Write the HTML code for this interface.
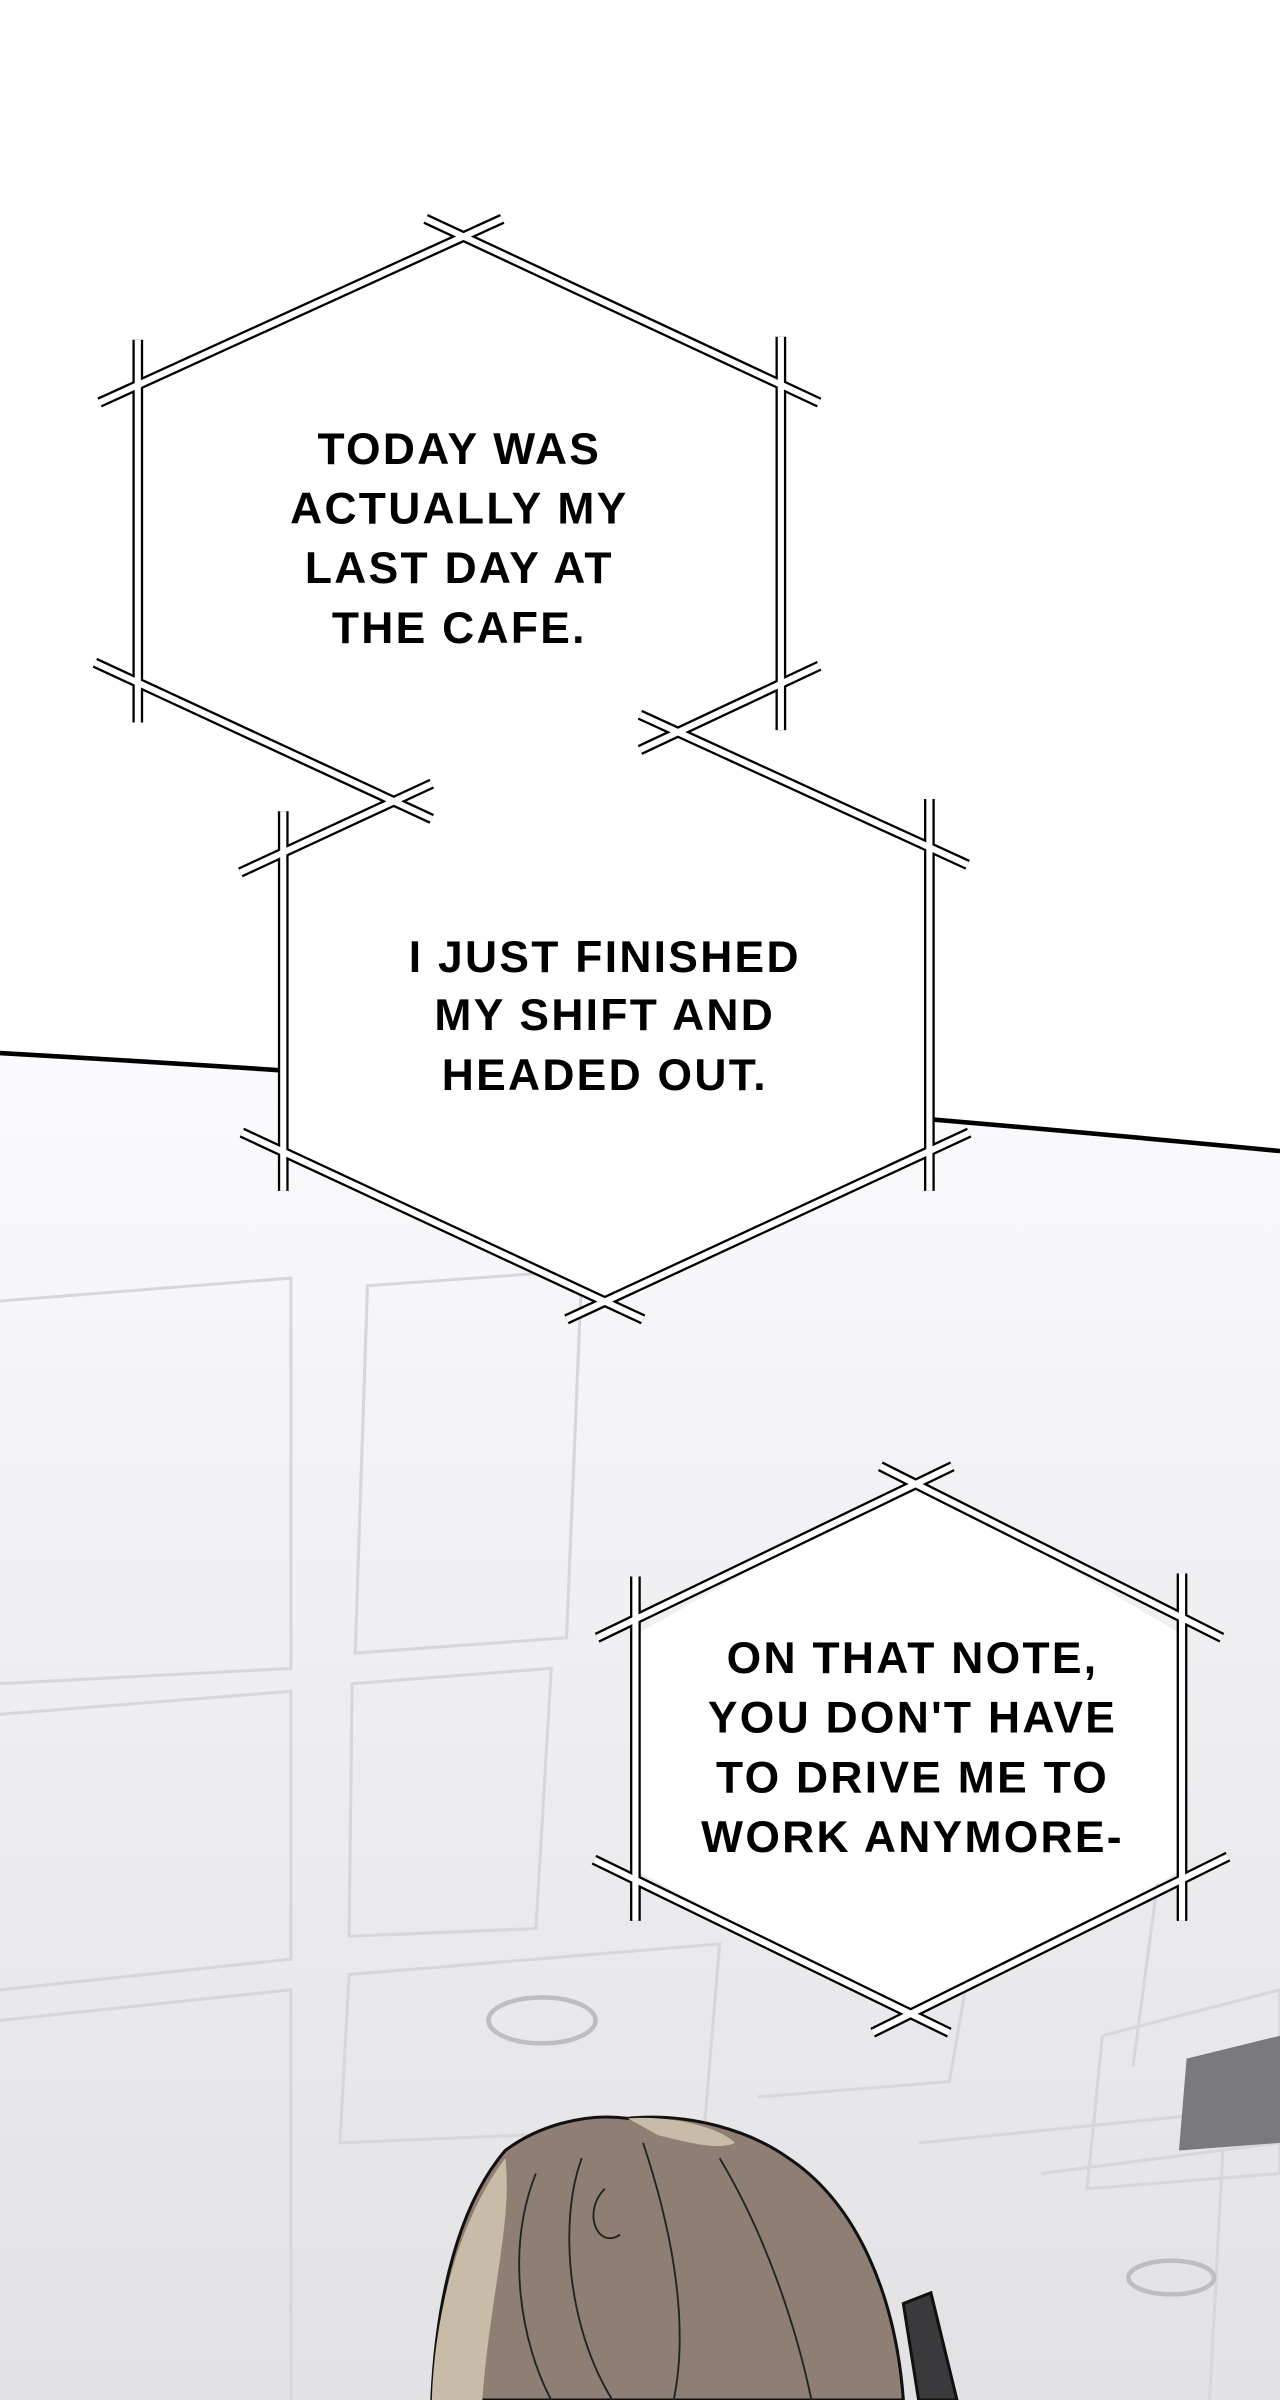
<!DOCTYPE html>
<html><head><meta charset="utf-8"><style>
html,body{margin:0;padding:0;background:#fff;}
svg{display:block;}
</style></head><body>
<svg width="1280" height="2400" viewBox="0 0 836 1568" preserveAspectRatio="none" xmlns="http://www.w3.org/2000/svg">
<defs>
<linearGradient id="bg" x1="0" y1="0" x2="0" y2="1">
<stop offset="0" stop-color="#fbfbfd"/><stop offset="0.4" stop-color="#f0f0f3"/><stop offset="1" stop-color="#e2e2e5"/>
</linearGradient>
</defs>
<rect width="836" height="1568" fill="#fff"/>
<path d="M0,688 Q420,712 836,752 L836,1568 L0,1568 Z" fill="url(#bg)"/>
<path d="M0,688 Q420,712 836,752" fill="none" stroke="#000" stroke-width="3"/>
<g fill="none" stroke="#d6d6db" stroke-width="2">
<path d="M0,850 L190,835 L190,1090 L0,1100"/>
<path d="M0,1120 L190,1105 L190,1280 L0,1300"/>
<path d="M0,1320 L190,1300 L190,1568"/>
<path d="M240,840 L380,830 L370,1070 L232,1080 Z"/>
<path d="M230,1100 L360,1090 L350,1260 L228,1265 Z"/>
<path d="M228,1290 L470,1270 L460,1390 L222,1400 Z"/>
<path d="M500,1260 L640,1245 L620,1360 L495,1370"/>
<path d="M650,1235 L760,1200 L740,1350"/>
<path d="M600,1400 L800,1380 L790,1568"/>
<path d="M680,1420 L836,1400"/>
<path d="M720,1330 L836,1300 L836,1420 L710,1430 Z"/>
<ellipse cx="354" cy="1320" rx="35" ry="15" stroke="#bdbdc2" stroke-width="3"/>
<ellipse cx="765" cy="1488" rx="28" ry="11" stroke="#bdbdc2" stroke-width="3"/>
</g>
<path d="M775,1345 L836,1330 L836,1400 L770,1405 Z" fill="#7a7a7e"/>
<path d="M282,1568 C285,1500 300,1440 330,1405 C350,1390 380,1380 410,1384 C450,1380 490,1392 515,1410 C560,1440 585,1500 590,1568 Z" fill="#8e7e74" stroke="#111" stroke-width="2"/>
<path d="M282,1568 C284,1510 300,1450 330,1410 C335,1450 320,1500 315,1568 Z" fill="#c8bba8"/>
<path d="M410,1384 C440,1382 470,1390 480,1400 C470,1405 450,1400 430,1395 Z" fill="#c8bba8"/>
<path d="M590,1505 L608,1498 L625,1568 L600,1568 Z" fill="#3a3a3c" stroke="#111" stroke-width="2"/>
<g fill="none" stroke="#222" stroke-width="1.2">
<path d="M350,1420 C330,1470 340,1530 360,1568"/><path d="M380,1410 C365,1450 370,1520 400,1568"/>
<path d="M420,1400 C440,1460 450,1520 440,1568"/><path d="M470,1410 C500,1460 520,1520 530,1568"/>
<path d="M395,1430 C380,1445 390,1470 405,1460"/>
</g>

<g fill="#fff">
<polygon points="302,153 510,258 510,452 282,530 90,452 90,253"/>
<polygon points="185,558 300,505 420,475 607,552 607,752 395,852 185,752"/>
<polygon points="598,965 772,1068 772,1222 595,1318 415,1222 415,1068"/>
</g>
<g stroke-linecap="butt">
<g stroke="#000" stroke-width="7">
<path d="M65,263 L328,143 M278,143 L535,263 M90,222 L90,472 M510,220 L510,477 M62,433 L282,535 M535,435 L418,490"/>
<path d="M157,570 L282,512 M418,467 L632,565 M185,530 L185,778 M607,522 L607,778 M158,740 L420,862 M370,862 L633,740"/>
<path d="M390,1070 L622,958 M575,958 L798,1070 M415,1030 L415,1255 M772,1028 L772,1255 M388,1215 L620,1328 M570,1328 L802,1213"/>
</g>
<g stroke="#fff" stroke-width="4">
<path d="M65,263 L328,143 M278,143 L535,263 M90,222 L90,472 M510,220 L510,477 M62,433 L282,535 M535,435 L418,490"/>
<path d="M157,570 L282,512 M418,467 L632,565 M185,530 L185,778 M607,522 L607,778 M158,740 L420,862 M370,862 L633,740"/>
<path d="M390,1070 L622,958 M575,958 L798,1070 M415,1030 L415,1255 M772,1028 L772,1255 M388,1215 L620,1328 M570,1328 L802,1213"/>
</g>
</g>
<g font-family="'Liberation Sans', sans-serif" font-weight="bold" font-size="29" text-anchor="middle" fill="#000" letter-spacing="1.5">
<text x="300" y="303">TODAY WAS</text>
<text x="300" y="342">ACTUALLY MY</text>
<text x="300" y="381">LAST DAY AT</text>
<text x="300" y="420">THE CAFE.</text>
<text x="395" y="635">I JUST FINISHED</text>
<text x="395" y="673">MY SHIFT AND</text>
<text x="395" y="712">HEADED OUT.</text>
<text x="596" y="1093">ON THAT NOTE,</text>
<text x="596" y="1132">YOU DON'T HAVE</text>
<text x="596" y="1171">TO DRIVE ME TO</text>
<text x="596" y="1210">WORK ANYMORE-</text>
</g>
</svg>
</body></html>
